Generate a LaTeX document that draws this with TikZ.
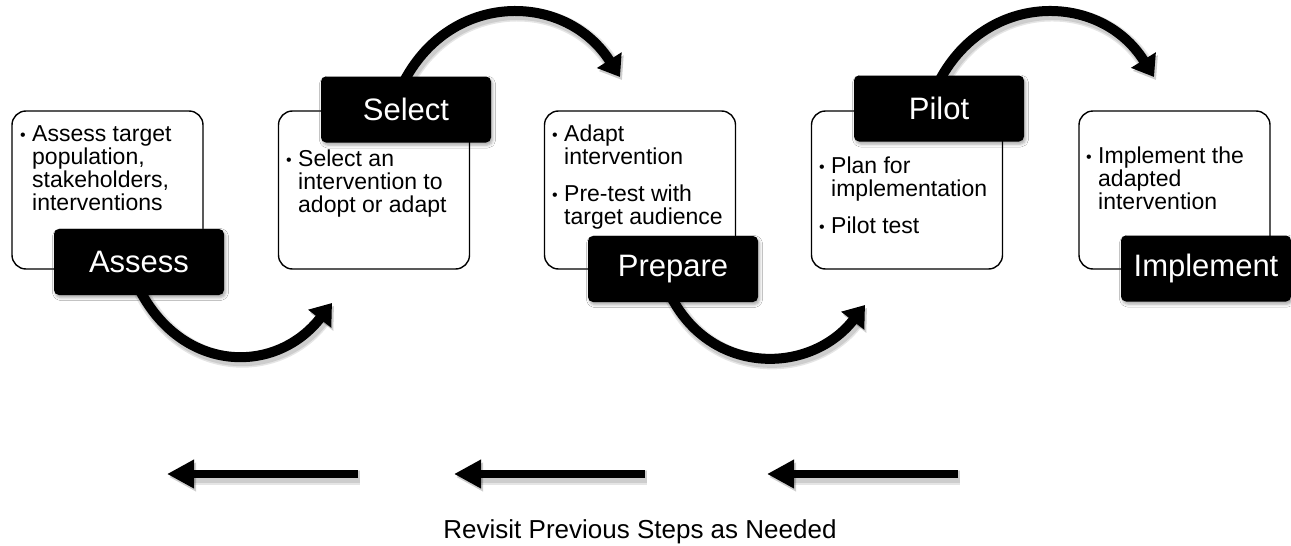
\documentclass[tikz,border=0pt]{standalone}
\usepackage{fontspec}
\setmainfont{Liberation Sans}
\usetikzlibrary{arrows.meta,shadows.blur}

% small bullet used in the step descriptions
\newcommand\bul{\makebox[12pt][l]{\raisebox{0.5pt}{\fontsize{16}{16}\selectfont\textbullet}}}

% the four curved flow arrows between the step labels and the three return arrows
\newcommand\drawflow[1]{%
  \draw[flowarc,#1] (a1s) -- (a1b) .. controls (a1c1) and (a1c2) .. (a1e);
  \draw[flowarc,#1] (a2s) -- (a2b) .. controls (a2c1) and (a2c2) .. (a2e);
  \draw[flowarc,#1] (a3s) -- (a3b) .. controls (a3c1) and (a3c2) .. (a3e);
  \draw[flowarc,#1] (a4s) -- (a4b) .. controls (a4c1) and (a4c2) .. (a4e);
  \draw[backarrow,#1] (r1s) -- (r1e);
  \draw[backarrow,#1] (r2s) -- (r2e);
  \draw[backarrow,#1] (r3s) -- (r3e);
}

\tikzset{
  stepbox/.style={draw=black, line width=1.4pt, fill=white, rounded corners=14pt,
    minimum width=191pt, minimum height=158pt, inner sep=0pt},
  steplabel/.style={fill=black, rounded corners=5pt, minimum width=170pt,
    minimum height=66pt, inner sep=0pt, text=white,
    font=\fontsize{31}{31}\selectfont,
    blur shadow={shadow xshift=1.5pt, shadow yshift=-2.5pt,
      shadow blur radius=3pt, shadow opacity=35}},
  bullettext/.style={anchor=base west, inner sep=0pt,
    font=\fontsize{23}{21.8}\selectfont},
  flowarc/.style={line width=10pt, line join=round,
    -{Triangle[length=20pt,width=28pt]}},
  backarrow/.style={line width=8.5pt,
    -{Triangle[length=27pt,width=27pt]}},
  flowshadow/.style={draw=black, opacity=0.10},
}

\begin{document}
\begin{tikzpicture}[x=1pt,y=1pt]
\useasboundingbox (0,0) rectangle (1291,-546);
\fill[white] (0,0) rectangle (1291,-546);

% ---- arrow geometry ----
\coordinate (a1s) at (139,-289);  \coordinate (a1b) at (143,-296);
\coordinate (a1c1) at (187.7,-373.5); \coordinate (a1c2) at (276.9,-373.5);
\coordinate (a1e) at (332,-303);

\coordinate (a2s) at (403,-83);   \coordinate (a2b) at (407,-76);
\coordinate (a2c1) at (456.5,9.7); \coordinate (a2c2) at (566.8,6.5);
\coordinate (a2e) at (620,-77);

\coordinate (a3s) at (670,-295);  \coordinate (a3b) at (674,-302);
\coordinate (a3c1) at (717,-376.5); \coordinate (a3c2) at (812,-372.8);
\coordinate (a3e) at (865,-305);

\coordinate (a4s) at (938,-83);   \coordinate (a4b) at (942,-76);
\coordinate (a4c1) at (991.5,9.7); \coordinate (a4c2) at (1101.8,6.5);
\coordinate (a4e) at (1154,-77);

\coordinate (r1s) at (358,-474); \coordinate (r1e) at (167,-474);
\coordinate (r2s) at (645,-474); \coordinate (r2e) at (454,-474);
\coordinate (r3s) at (958,-474); \coordinate (r3e) at (767,-474);

% ---- soft shadow under the arrows ----
\begin{scope}[transform canvas={xshift=2pt,yshift=-3pt}]
  \drawflow{flowshadow, line width=15pt}
  \drawflow{flowshadow, line width=12pt}
\end{scope}

% ---- content boxes ----
\node[stepbox] (B1) at (107.5,-190) {};
\node[stepbox] (B2) at (374,-190) {};
\node[stepbox] (B3) at (640,-190) {};
\node[stepbox] (B4) at (907,-190) {};
\node[stepbox] (B5) at (1174.5,-190) {};

\node[bullettext] (T1) at (20,-141) {\begin{tabular}[t]{@{}l@{}l@{}}
  \bul & Assess target\\ & population,\\ & stakeholders,\\ & interventions\end{tabular}};
\node[bullettext] (T2) at (286,-166) {\begin{tabular}[t]{@{}l@{}l@{}}
  \bul & Select an\\ & intervention to\\ & adopt or adapt\end{tabular}};
\node[bullettext] (T3) at (552,-141) {\begin{tabular}[t]{@{}l@{}l@{}}
  \bul & Adapt\\ & intervention\\[14pt] \bul & Pre-test with\\ & target audience\end{tabular}};
\node[bullettext] (T4) at (819,-173) {\begin{tabular}[t]{@{}l@{}l@{}}
  \bul & Plan for\\ & implementation\\[14pt] \bul & Pilot test\end{tabular}};
\node[bullettext] (T5) at (1086,-163) {\begin{tabular}[t]{@{}l@{}l@{}}
  \bul & Implement the\\ & adapted\\ & intervention\end{tabular}};

% ---- arrows ----
\drawflow{draw=black}

% ---- step labels ----
\node[steplabel] (L1) at (139,-262) {Assess};
\node[steplabel] (L2) at (406,-109.5) {Select};
\node[steplabel] (L3) at (673,-269) {Prepare};
\node[steplabel] (L4) at (939,-108.5) {Pilot};
\node[steplabel] (L5) at (1206,-268.5) {Implement};

% ---- caption under the return arrows ----
\node[anchor=base, inner sep=0pt, font=\fontsize{26}{26}\selectfont] (cap)
  at (640,-538) {Revisit Previous Steps as Needed};
\end{tikzpicture}
\end{document}
